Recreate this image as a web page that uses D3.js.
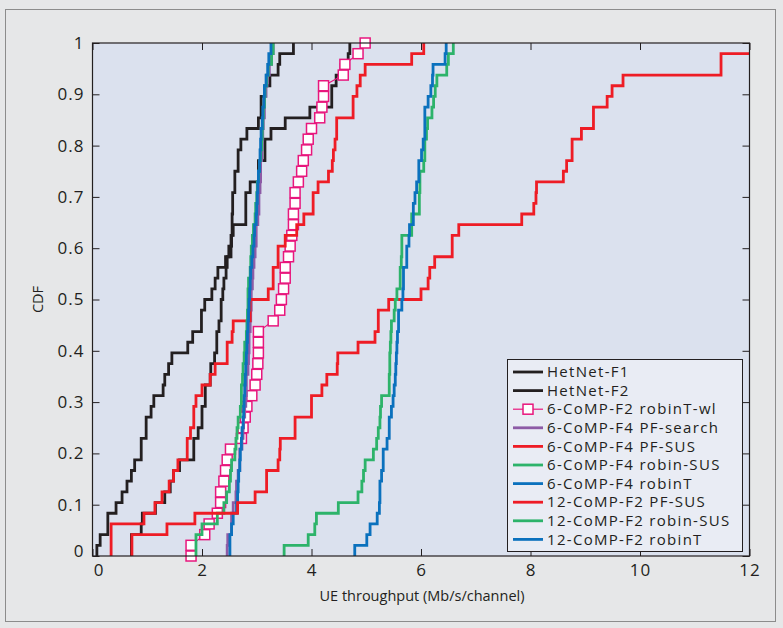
<!DOCTYPE html>
<html>
<head>
<meta charset="utf-8">
<script src="https://cdn.jsdelivr.net/npm/d3@7"></script>
<style>
  body { margin: 0; background: #e6e7e8; }
  text { font-family: 'Open Sans', sans-serif; fill: #231f20; }
</style>
</head>
<body>
<svg id="chart" width="783" height="628"></svg>
<script>
// sorted samples (48 users per curve, step = 1/48)
const hetnetF1 = [0.08, 0.14, 0.28, 0.28, 0.43, 0.54, 0.63, 0.71, 0.77, 0.89, 0.89, 0.98, 0.98, 1.07, 1.12, 1.29,
  1.32, 1.39, 1.45, 1.74, 1.83, 1.99, 1.99, 2.05, 2.18, 2.24, 2.29, 2.43, 2.53, 2.54, 2.55, 2.55,
  2.56, 2.56, 2.60, 2.60, 2.66, 2.66, 2.71, 2.82, 3.03, 3.08, 3.08, 3.15, 3.24, 3.39, 3.42, 3.67]
const hetnetF2 = [0.71, 0.71, 0.89, 0.91, 1.15, 1.32, 1.42, 1.48, 1.59, 1.85, 1.85, 1.93, 2.00, 2.00, 2.06, 2.06,
  2.15, 2.16, 2.23, 2.27, 2.27, 2.31, 2.35, 2.35, 2.38, 2.40, 2.44, 2.46, 2.49, 2.53, 2.57, 2.80,
  2.80, 2.80, 2.88, 3.03, 3.03, 3.15, 3.15, 3.26, 3.52, 3.97, 4.37, 4.37, 4.45, 4.54, 4.67, 4.70]
const comp6F2RobinTwl = [1.80, 2.05, 2.13, 2.28, 2.34, 2.34, 2.40, 2.43, 2.46, 2.52, 2.72, 2.75, 2.79, 2.82, 2.91, 2.97,
  3.00, 3.02, 3.03, 3.03, 3.03, 3.30, 3.42, 3.45, 3.49, 3.52, 3.52, 3.58, 3.61, 3.64, 3.67, 3.67,
  3.70, 3.70, 3.76, 3.82, 3.85, 3.91, 3.94, 4.00, 4.15, 4.19, 4.22, 4.22, 4.58, 4.61, 4.85, 4.98]
const comp6F4PfSearch = [2.46, 2.47, 2.54, 2.54, 2.57, 2.62, 2.63, 2.66, 2.69, 2.69, 2.73, 2.75, 2.76, 2.78, 2.80, 2.81,
  2.81, 2.84, 2.85, 2.86, 2.86, 2.88, 2.89, 2.90, 2.90, 2.92, 2.93, 2.95, 2.97, 2.99, 2.99, 3.02,
  3.04, 3.04, 3.06, 3.07, 3.07, 3.09, 3.10, 3.11, 3.12, 3.14, 3.14, 3.17, 3.19, 3.23, 3.27, 3.30]
const comp6F4PfSus = [0.34, 0.34, 0.34, 0.94, 1.14, 1.27, 1.40, 1.48, 1.56, 1.73, 1.73, 1.79, 1.85, 1.85, 1.89, 2.00,
  2.15, 2.24, 2.46, 2.46, 2.55, 2.57, 2.88, 2.88, 3.21, 3.30, 3.30, 3.39, 3.39, 3.52, 3.73, 3.86,
  4.03, 4.03, 4.12, 4.31, 4.38, 4.40, 4.43, 4.46, 4.46, 4.76, 4.76, 4.83, 4.89, 4.98, 5.83, 6.05]
const comp6F4RobinSus = [1.89, 1.89, 2.00, 2.28, 2.40, 2.45, 2.50, 2.52, 2.54, 2.60, 2.62, 2.64, 2.66, 2.70, 2.72, 2.72,
  2.74, 2.75, 2.77, 2.78, 2.81, 2.82, 2.83, 2.84, 2.84, 2.85, 2.88, 2.89, 2.90, 2.92, 2.94, 2.97,
  2.98, 3.00, 3.01, 3.03, 3.05, 3.07, 3.09, 3.10, 3.11, 3.12, 3.14, 3.15, 3.18, 3.21, 3.27, 3.30]
const comp6F4RobinT = [2.51, 2.51, 2.54, 2.57, 2.63, 2.65, 2.66, 2.67, 2.69, 2.70, 2.72, 2.73, 2.75, 2.76, 2.77, 2.78,
  2.79, 2.80, 2.81, 2.82, 2.83, 2.84, 2.85, 2.86, 2.87, 2.88, 2.89, 2.91, 2.93, 2.95, 2.96, 2.99,
  3.00, 3.01, 3.02, 3.03, 3.05, 3.06, 3.07, 3.08, 3.10, 3.11, 3.13, 3.14, 3.17, 3.20, 3.22, 3.26]
const comp12F2PfSus = [0.72, 0.72, 1.36, 1.87, 2.65, 2.97, 3.18, 3.18, 3.39, 3.42, 3.43, 3.70, 3.70, 4.00, 4.00, 4.19,
  4.28, 4.47, 4.48, 4.85, 5.16, 5.22, 5.22, 5.41, 6.00, 6.13, 6.16, 6.25, 6.57, 6.57, 6.69, 7.84,
  8.06, 8.10, 8.11, 8.60, 8.66, 8.76, 8.76, 8.93, 9.15, 9.15, 9.40, 9.49, 9.69, 11.48, 11.48, 12.4]
const comp12F2RobinSus = [3.50, 3.94, 4.06, 4.09, 4.49, 4.85, 4.92, 4.95, 4.98, 5.13, 5.19, 5.22, 5.25, 5.26, 5.28, 5.42,
  5.42, 5.43, 5.43, 5.44, 5.45, 5.46, 5.51, 5.53, 5.56, 5.62, 5.62, 5.64, 5.65, 5.65, 5.83, 5.83,
  5.97, 5.97, 5.98, 5.98, 6.05, 6.07, 6.07, 6.10, 6.12, 6.20, 6.23, 6.26, 6.29, 6.47, 6.50, 6.59]
const comp12F2RobinT = [4.79, 5.01, 5.07, 5.20, 5.24, 5.25, 5.25, 5.28, 5.31, 5.31, 5.38, 5.42, 5.42, 5.46, 5.49, 5.51,
  5.53, 5.54, 5.55, 5.56, 5.57, 5.59, 5.59, 5.65, 5.67, 5.68, 5.68, 5.74, 5.74, 5.78, 5.79, 5.86,
  5.86, 5.89, 5.92, 5.96, 5.96, 6.01, 6.04, 6.07, 6.07, 6.07, 6.13, 6.18, 6.21, 6.22, 6.44, 6.46]

const seriesNames = ['HetNet-F1', 'HetNet-F2', '6-CoMP-F2 robinT-wl', '6-CoMP-F4 PF-search', '6-CoMP-F4 PF-SUS',
  '6-CoMP-F4 robin-SUS', '6-CoMP-F4 robinT', '12-CoMP-F2 PF-SUS', '12-CoMP-F2 robin-SUS', '12-CoMP-F2 robinT']
const seriesSamples = [hetnetF1, hetnetF2, comp6F2RobinTwl, comp6F4PfSearch, comp6F4PfSus,
  comp6F4RobinSus, comp6F4RobinT, comp12F2PfSus, comp12F2RobinSus, comp12F2RobinT]
const seriesColors = ['#231f20', '#231f20', '#e8177d', '#8d5ba6', '#ee1c25',
  '#2db36a', '#0b71bd', '#ee1c25', '#2db36a', '#0b71bd']

const xTicks = [0, 2, 4, 6, 8, 10, 12]
const yTicks = [0, 0.1, 0.2, 0.3, 0.4, 0.5, 0.6, 0.7, 0.8, 0.9, 1]

const plot = { left: 92.5, right: 749.5, top: 43, bottom: 556 }
const markedSeries = 2

const svg = d3.select('#chart')

// outer frame
svg.append('rect')
  .attr('x', 5.5).attr('y', 9.5)
  .attr('width', 770).attr('height', 612)
  .style('fill', '#e6e7e8')
  .style('stroke', '#8c8c8c')
  .style('stroke-width', 1)

// plot background
svg.append('rect')
  .attr('x', plot.left).attr('y', plot.top)
  .attr('width', plot.right - plot.left).attr('height', plot.bottom - plot.top)
  .style('fill', '#dbe1ee')

const xScale = d3.scaleLinear().domain([0, 12]).range([plot.left, plot.right])
const yScale = d3.scaleLinear().domain([0, 1]).range([plot.bottom, plot.top])

svg.append('clipPath')
  .attr('id', 'clip')
  .append('rect')
  .attr('x', plot.left).attr('y', plot.top - 6)
  .attr('width', plot.right - plot.left).attr('height', plot.bottom - plot.top + 12)

// empirical cdf points: start at (x0, 0), then i/n at every sample
function cdfPoints(samples) {
  const n = samples.length
  return [[samples[0], 0]].concat(samples.map((s, i) => [s, (i + 1) / n]))
}

const stepLine = d3.line()
  .x(d => xScale(d[0]))
  .y(d => yScale(d[1]))
  .curve(d3.curveStepAfter)

const straightLine = d3.line()
  .x(d => xScale(d[0]))
  .y(d => yScale(d[1]))

const curves = svg.append('g').attr('clip-path', 'url(#clip)')

seriesSamples.forEach((samples, i) => {
  const pts = cdfPoints(samples)
  const isMarked = i === markedSeries
  curves.append('path')
    .datum(pts)
    .attr('d', isMarked ? straightLine : stepLine)
    .style('fill', 'none')
    .style('stroke', seriesColors[i])
    .style('stroke-width', isMarked ? 1.2 : 2.8)
    .style('stroke-linejoin', 'miter')

  if (isMarked) {
    curves.selectAll('.marker')
      .data(pts)
      .enter()
      .append('rect')
      .attr('class', 'marker')
      .attr('x', d => xScale(d[0]) - 5)
      .attr('y', d => yScale(d[1]) - 5)
      .attr('width', 10)
      .attr('height', 10)
      .style('fill', '#ffffff')
      .style('stroke', seriesColors[i])
      .style('stroke-width', 1.5)
  }
})

// axes (ticks point inward on all four sides)
const xAxis = svg.append('g')
  .attr('transform', `translate(0, ${plot.bottom})`)
  .call(d3.axisBottom(xScale).tickValues(xTicks).tickSize(-7).tickSizeOuter(0).tickPadding(8))
xAxis.selectAll('text').filter(d => d === 0).attr('dx', 6)

const yAxis = svg.append('g')
  .attr('transform', `translate(${plot.left}, 0)`)
  .call(d3.axisLeft(yScale).tickValues(yTicks).tickSize(-7).tickSizeOuter(0).tickPadding(8)
    .tickFormat(d => (d === 0 || d === 1) ? d : d.toFixed(1)))
yAxis.selectAll('text').filter(d => d === 0).attr('y', -5)

svg.append('g')
  .attr('transform', `translate(0, ${plot.top})`)
  .call(d3.axisTop(xScale).tickValues(xTicks).tickSize(-7).tickSizeOuter(0).tickFormat(''))

svg.append('g')
  .attr('transform', `translate(${plot.right}, 0)`)
  .call(d3.axisRight(yScale).tickValues(yTicks).tickSize(-7).tickSizeOuter(0).tickFormat(''))

svg.selectAll('.domain').remove()
svg.selectAll('.tick line').style('stroke', '#231f20')
svg.selectAll('.tick text')
  .style('font-size', '17px')
  .style('letter-spacing', '1px')
  .style('font-family', "'Open Sans', sans-serif")
  .style('fill', '#231f20')

svg.append('rect')
  .attr('x', plot.left).attr('y', plot.top)
  .attr('width', plot.right - plot.left).attr('height', plot.bottom - plot.top)
  .style('fill', 'none')
  .style('stroke', '#231f20')
  .style('stroke-width', 1.2)

// axis titles
svg.append('text')
  .text('UE throughput (Mb/s/channel)')
  .attr('x', (plot.left + plot.right) / 2 + 1)
  .attr('y', 601)
  .style('text-anchor', 'middle')
  .style('font-size', '14.5px')

svg.append('text')
  .text('CDF')
  .attr('transform', `translate(43, ${(plot.top + plot.bottom) / 2}) rotate(-90)`)
  .style('text-anchor', 'middle')
  .style('font-size', '14.5px')

// Legend
const legend = svg.append('g').attr('id', 'legend')

legend.append('rect')
  .attr('x', 507.5).attr('y', 359.5)
  .attr('width', 235).attr('height', 192)
  .style('fill', '#e9ecf4')
  .style('stroke', '#231f20')
  .style('stroke-width', 1)

const legendRows = legend.selectAll('g')
  .data(seriesNames)
  .enter()
  .append('g')
  .attr('transform', (d, i) => `translate(513, ${372 + i * 18.6})`)

legendRows.append('line')
  .attr('x1', 0).attr('x2', 30)
  .style('stroke', (d, i) => seriesColors[i])
  .style('stroke-width', (d, i) => i === markedSeries ? 1.2 : 2.8)

legendRows.filter((d, i) => i === markedSeries)
  .append('rect')
  .attr('x', 10).attr('y', -5)
  .attr('width', 10).attr('height', 10)
  .style('fill', '#ffffff')
  .style('stroke', seriesColors[markedSeries])
  .style('stroke-width', 1.5)

legendRows.append('text')
  .text(d => d)
  .attr('x', 34)
  .attr('dy', '0.35em')
  .style('font-size', '15px')
  .style('letter-spacing', '1.3px')
</script>
</body>
</html>
